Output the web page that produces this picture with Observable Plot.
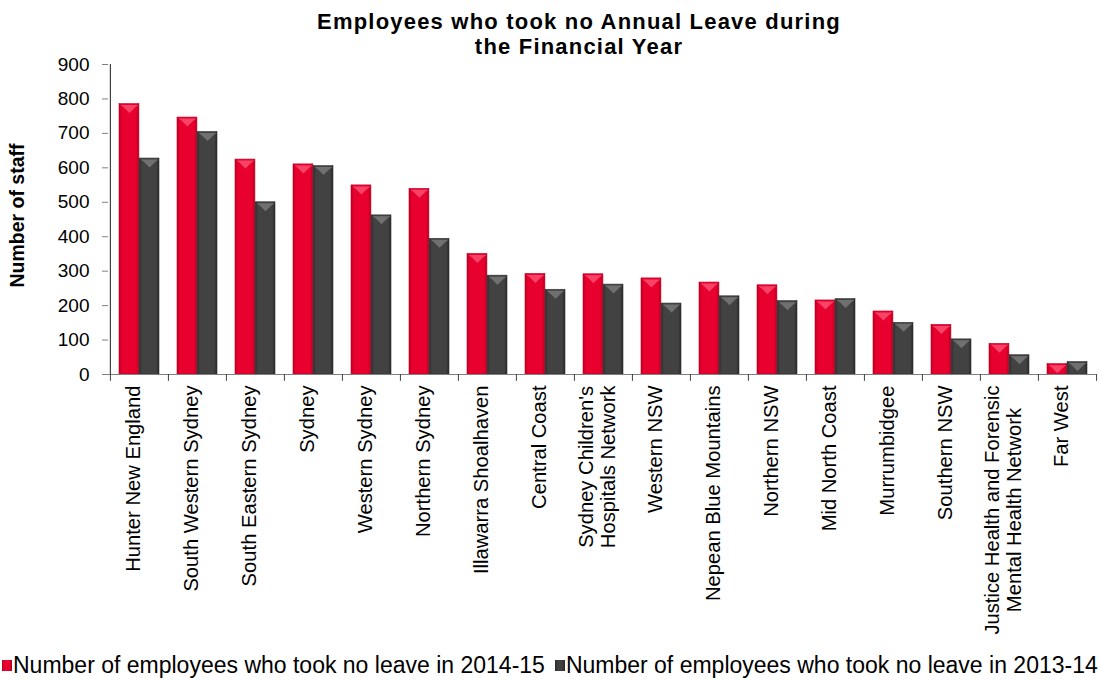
<!DOCTYPE html>
<html>
<head>
<meta charset="utf-8">
<script src="https://cdn.jsdelivr.net/npm/d3@7"></script>
<script src="https://cdn.jsdelivr.net/npm/@observablehq/plot@0.6"></script>
<style>
  html, body { margin: 0; padding: 0; background: #fff; }
  #wrap { position: relative; width: 1101px; height: 682px; overflow: hidden; }
  #title { position: absolute; left: 0; top: 9px; width: 1158px; text-align: center;
    font-family: "Liberation Sans", Arial, sans-serif; font-weight: bold; font-size: 22px;
    line-height: 25px; letter-spacing: 1.2px; color: #000; }
  #chart { position: absolute; left: 0; top: 0; }
  #legend { position: absolute; left: 2px; top: 652px; font-family: "Liberation Sans", Arial, sans-serif;
    font-size: 23px; color: #000; white-space: nowrap; display: flex; align-items: center; }
  .sw { display: inline-block; width: 10px; height: 11px; margin-right: 1px; }
  .item { display: inline-flex; align-items: center; margin-right: 10px; }
</style>
</head>
<body>
<div id="wrap">
  <div id="chart"></div>
  <div id="title"></div>
  <div id="legend"></div>
</div>
<script>
const titleLines = ["Employees who took no Annual Leave during", "the Financial Year"];
const yLabel = "Number of staff";
const regions = [
  "Hunter New England", "South Western Sydney", "South Eastern Sydney", "Sydney",
  "Western Sydney", "Northern Sydney", "Illawarra Shoalhaven", "Central Coast",
  "Sydney Children's\nHospitals Network", "Western NSW", "Nepean Blue Mountains",
  "Northern NSW", "Mid North Coast", "Murrumbidgee", "Southern NSW",
  "Justice Health and Forensic\nMental Health Network", "Far West"
];
const series = ["Number of employees who took no leave in 2014-15", "Number of employees who took no leave in 2013-14"];
const values2015 = [785, 746, 624, 610, 549, 539, 350, 292, 291, 279, 267, 259, 215, 183, 144, 89, 30];
const values2014 = [627, 704, 500, 605, 462, 394, 287, 246, 261, 206, 227, 213, 219, 150, 102, 56, 36];
const yTicks = [0, 100, 200, 300, 400, 500, 600, 700, 800, 900];

const colors = ["#e8002e", "#404040"];

const W = 1101, H = 645;
const mL = 108, mR = 4, mT = 64, mB = H - 374;
const step = (W - mL - mR) / regions.length;
const FONT = "'Liberation Sans', Arial, sans-serif";
const xFont = 20.2, xLine = 22, xGap = 11;
const barW = step / 2 - 9; // each bar of a pair

const rows2015 = regions.map((r, i) => ({region: r, value: values2015[i]}));
const rows2014 = regions.map((r, i) => ({region: r, value: values2014[i]}));

// measure label lines so that multi-line labels are centred line by line (as in the original)
const ctx = document.createElement("canvas").getContext("2d");
ctx.font = `${xFont}px 'Liberation Sans', Arial, sans-serif`;
const labelMarks = regions.flatMap(r => {
  const lines = r.split("\n");
  if (lines.length === 1) {
    return [Plot.text([r], {x: d => d, frameAnchor: "bottom", dy: xGap, rotate: -90, textAnchor: "end", fontSize: xFont, fill: "#000"})];
  }
  const L = Math.max(...lines.map(s => ctx.measureText(s).width));
  return lines.map((s, j) => Plot.text([s], {
    x: () => r, text: d => d, frameAnchor: "bottom",
    dy: xGap + L / 2, dx: (j - (lines.length - 1) / 2) * xLine,
    rotate: -90, textAnchor: "middle", fontSize: xFont, fill: "#000"
  }));
});

// bevel highlight drawn at each bar top
const bevel = {
  draw(context) {
    const hw = barW / 2 - 1;
    context.moveTo(-hw, 0);
    context.lineTo(hw, 0);
    context.lineTo(hw - 3, 2);
    context.lineTo(0, 8);
    context.lineTo(-hw + 3, 2);
    context.closePath();
  }
};

const defs = () => {
  const d = d3.create("svg:defs");
  const g1 = d.append("linearGradient").attr("id", "gRed").attr("x1", 0).attr("x2", 1).attr("y1", 0).attr("y2", 0);
  g1.append("stop").attr("offset", "0%").attr("stop-color", "#b8001f");
  g1.append("stop").attr("offset", "14%").attr("stop-color", "#e8002e");
  g1.append("stop").attr("offset", "86%").attr("stop-color", "#e8002e");
  g1.append("stop").attr("offset", "100%").attr("stop-color", "#b0001d");
  const g2 = d.append("linearGradient").attr("id", "gGray").attr("x1", 0).attr("x2", 1).attr("y1", 0).attr("y2", 0);
  g2.append("stop").attr("offset", "0%").attr("stop-color", "#2a2a2a");
  g2.append("stop").attr("offset", "14%").attr("stop-color", "#424242");
  g2.append("stop").attr("offset", "86%").attr("stop-color", "#424242");
  g2.append("stop").attr("offset", "100%").attr("stop-color", "#262626");
  return d.node();
};

const chart = Plot.plot({
  width: W, height: H,
  marginLeft: mL, marginRight: mR, marginTop: mT, marginBottom: mB,
  style: {fontFamily: FONT, fontSize: "18px", color: "#000", background: "#fff"},
  x: {type: "band", domain: regions, padding: 0, axis: null},
  y: {domain: [0, 900], ticks: yTicks, axis: null},
  marks: [
    defs,
    Plot.barY(rows2015, {x: "region", y: "value", fill: "url(#gRed)", stroke: "#c0002a", strokeWidth: 0.6, insetLeft: 9, insetRight: step - 9 - barW}),
    Plot.barY(rows2014, {x: "region", y: "value", fill: "url(#gGray)", stroke: "#333", strokeWidth: 0.6, insetLeft: step - 9 - barW, insetRight: 9}),
    Plot.dot(rows2015, {x: "region", y: "value", symbol: bevel, r: 1, dx: -step / 2 + 9 + barW / 2, dy: 1, fill: "#ff5a7a", fillOpacity: 0.75, stroke: "none"}),
    Plot.dot(rows2014, {x: "region", y: "value", symbol: bevel, r: 1, dx: step / 2 - 9 - barW / 2, dy: 1, fill: "#808080", fillOpacity: 0.75, stroke: "none"}),
    Plot.axisY({ticks: yTicks, tickSize: 6, tickPadding: 13, stroke: "#808080", fontSize: 19, label: null}),
    Plot.ruleY([0], {stroke: "#808080", strokeWidth: 1.2}),
    Plot.ruleX([regions[0]], {dx: -step / 2, stroke: "#404040", strokeWidth: 1.2}),
    Plot.ruleX(regions, {x: d => d, dx: -step / 2, y1: 0, y2: -20, stroke: "#404040"}),
    Plot.ruleX([regions[regions.length - 1]], {x: d => d, dx: step / 2, y1: 0, y2: -20, stroke: "#404040"}),
    ...labelMarks,
    Plot.text([yLabel], {frameAnchor: "left", dx: -91, dy: -4, rotate: -90, textAnchor: "middle", fontWeight: "bold", fontSize: 19.5, fill: "#000"})
  ]
});
document.getElementById("chart").appendChild(chart);

document.getElementById("title").innerHTML = titleLines.join("<br>");
const leg = document.getElementById("legend");
series.forEach((s, i) => {
  const it = document.createElement("span");
  it.className = "item";
  const sw = document.createElement("span");
  sw.className = "sw";
  sw.style.background = `linear-gradient(90deg, ${i ? "#2a2a2a" : "#b8001f"}, ${colors[i]} 30%, ${colors[i]} 70%, ${i ? "#2a2a2a" : "#b8001f"})`;
  it.appendChild(sw);
  it.appendChild(document.createTextNode(s));
  leg.appendChild(it);
});
</script>
</body>
</html>
